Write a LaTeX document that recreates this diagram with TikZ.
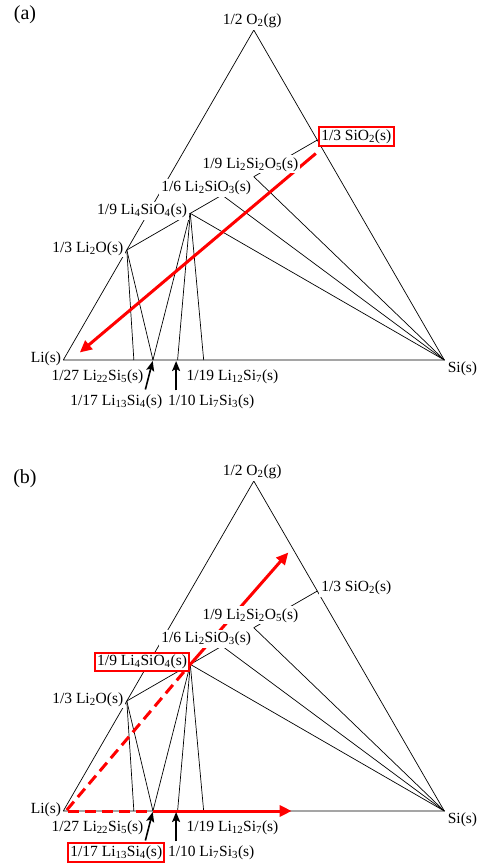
\documentclass[tikz,border=0pt]{standalone}
\usepackage{fontspec}
\setmainfont{Liberation Serif}
\usepackage{tikz}
\usetikzlibrary{arrows.meta,positioning}
\newcommand{\sub}[1]{\textsubscript{#1}}

\begin{document}
\begin{tikzpicture}[x=1pt, y=1pt,
    tie/.style={line width=0.7pt},
    lab/.style={fill=white, inner sep=2pt, font=\fontsize{15.5}{18}\selectfont},
    panel/.style={inner sep=0pt, font=\fontsize{20}{24}\selectfont},
    redbox/.style={draw=red, line width=2pt},
    redarrow/.style={draw=red, line width=3pt, -{Triangle[length=12pt,width=11pt]}},
    reddash/.style={draw=red, line width=3pt, dash pattern=on 11pt off 6pt},
    blackarrow/.style={line width=1.6pt, -{Stealth[length=10pt,width=8pt,inset=2pt]}, shorten >=1pt}]
    \useasboundingbox (-63.3,-507) rectangle (414.7,360);

    % Compositions and tie lines, both panels
    \foreach \p/\dy in {a/0, b/-451} {
        \begin{scope}[yshift=\dy]
            \coordinate (li-\p) at (0,0);
            \coordinate (si-\p) at (381,0);
            \coordinate (o-\p) at (190.5,329.95);
            \coordinate (li2o-\p) at (63.5,109.98);
            \coordinate (li4sio4-\p) at (127,146.64);
            \coordinate (li2sio3-\p) at (158.75,164.97);
            \coordinate (li2si2o5-\p) at (190.5,183.3);
            \coordinate (sio2-\p) at (254,219.97);
            \coordinate (li22si5-\p) at (70.56,0);
            \coordinate (li13si4-\p) at (89.65,0);
            \coordinate (li7si3-\p) at (114.3,0);
            \coordinate (li12si7-\p) at (140.37,0);

            \draw[tie] (li-\p) -- (si-\p) -- (o-\p) -- cycle;
            \draw[tie] (li2o-\p) -- (li4sio4-\p) -- (li2sio3-\p);
            \draw[tie] (li2si2o5-\p) -- (sio2-\p);
            \draw[tie] (li4sio4-\p) -- (si-\p);
            \draw[tie] (li2sio3-\p) -- (si-\p);
            \draw[tie] (li2si2o5-\p) -- (si-\p);
            \draw[tie] (li2o-\p) -- (li22si5-\p);
            \draw[tie] (li2o-\p) -- (li13si4-\p);
            \draw[tie] (li4sio4-\p) -- (li13si4-\p);
            \draw[tie] (li4sio4-\p) -- (li7si3-\p);
            \draw[tie] (li4sio4-\p) -- (li12si7-\p);
        \end{scope}
    }

    % Red paths
    \coordinate (sio2-tail) at (252.5,206.5);
    \coordinate (li-head) at (16.5,7.5);
    \draw[redarrow] (sio2-tail) -- (li-head);

    \coordinate (li-start) at (3.5,-450);
    \coordinate (li-bottom) at (5,-451);
    \coordinate (o-head) at (225,-192.5);
    \coordinate (si-head) at (228.4,-451);
    \draw[reddash] (li-start) -- (li4sio4-b);
    \draw[reddash] (li-bottom) -- (li13si4-b);
    \draw[redarrow] (li4sio4-b) -- (o-head);
    \draw[redarrow] (li13si4-b) -- (si-head);

    % Labels, both panels
    \foreach \p/\dy in {a/0, b/-451} {
        \begin{scope}[yshift=\dy]
            \node[lab] (o-lab-\p) at (188.9,339.3) {1/2 O\sub{2}(g)};
            \node[lab] (li-lab-\p) at (-17.4,1) {Li(s)};
            \node[lab] (si-lab-\p) at (399.2,-8.5) {Si(s)};
            \node[lab] (sio2-lab-\p) at (293,223.5) {1/3 SiO\sub{2}(s)};
            \node[lab] (li2si2o5-lab-\p) at (187.2,195.7) {1/9 Li\sub{2}Si\sub{2}O\sub{5}(s)};
            \node[lab] (li2sio3-lab-\p) at (142.9,172.3) {1/6 Li\sub{2}SiO\sub{3}(s)};
            \node[lab] (li4sio4-lab-\p) at (78.8,149) {1/9 Li\sub{4}SiO\sub{4}(s)};
            \node[lab] (li2o-lab-\p) at (24.5,111.7) {1/3 Li\sub{2}O(s)};
            \node[lab] (li22si5-lab-\p) at (34.2,-16.7) {1/27 Li\sub{22}Si\sub{5}(s)};
            \node[lab] (li12si7-lab-\p) at (169.2,-16.7) {1/19 Li\sub{12}Si\sub{7}(s)};
            \node[lab] (li13si4-lab-\p) at (53,-41.7) {1/17 Li\sub{13}Si\sub{4}(s)};
            \node[lab] (li7si3-lab-\p) at (147.9,-41.7) {1/10 Li\sub{7}Si\sub{3}(s)};

            \draw[blackarrow] (li13si4-lab-\p.north east) ++(-19,3) -- (li13si4-\p);
            \draw[blackarrow] (li7si3-lab-\p.north -| li7si3-\p) ++(-1.5,2) -- ([xshift=-1.5]li7si3-\p);
        \end{scope}
    }

    \node[panel] (a-lab) at (-38.3,345) {(a)};
    \node[panel] (b-lab) at (-38.3,-118.3) {(b)};

    % Highlighted phases
    \draw[redbox] (sio2-lab-a.south west) rectangle (sio2-lab-a.north east);
    \draw[redbox] (li4sio4-lab-b.south west) rectangle (li4sio4-lab-b.north east);
    \draw[redbox] (li13si4-lab-b.south west) rectangle (li13si4-lab-b.north east);
\end{tikzpicture}
\end{document}
